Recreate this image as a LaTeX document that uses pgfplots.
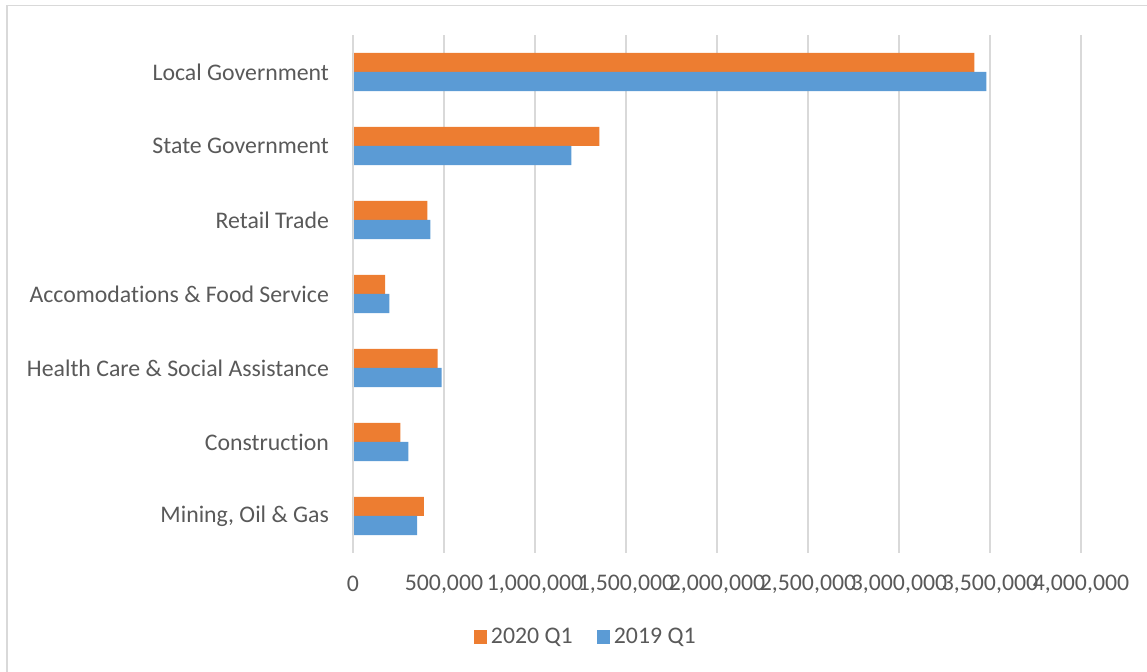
\documentclass[border=0pt]{standalone}
\usepackage{pgfplots}
\pgfplotsset{compat=1.18}
\usepackage{fontspec}
\setmainfont{Carlito}[Ligatures=NoCommon]
\definecolor{c20}{HTML}{ED7D31}
\definecolor{c19}{HTML}{5B9BD5}
\definecolor{gridc}{HTML}{D9D9D9}
\definecolor{txt}{HTML}{595959}
\begin{document}
\begin{tikzpicture}
\path[use as bounding box] (0,0) rectangle (573.5pt,-336pt);
\draw[gridc, line width=0.9pt] (3.5pt,-336pt) -- (3.5pt,-2.8pt) -- (573.5pt,-2.8pt);
\begin{axis}[
  at={(176.5pt,-17.5pt)}, anchor=north west,
  scale only axis, width=364pt, height=259pt,
  xbar, bar width=9.6pt,
  xmin=0, xmax=4000000,
  ymin=-0.5, ymax=6.5,
  xtick={0,500000,...,4000000},
  ytick={0,1,2,3,4,5,6},
  yticklabels={{Mining, Oil \& Gas},Construction,{Health Care \& Social Assistance},{Accomodations \& Food Service},Retail Trade,State Government,Local Government},
  scaled x ticks=false,
  xticklabel={\pgfmathprintnumber[fixed,1000 sep={,},precision=0]{\tick}},
  /pgf/number format/assume math mode=true,
  xmajorgrids, major grid style={gridc, line width=0.9pt},
  major tick length=0pt,
  axis line style={draw=none},
  tick label style={font=\fontsize{11.9}{14}\selectfont, text=txt},
  xticklabel style={anchor=center, yshift=-15.5pt},
  yticklabel style={anchor=east, xshift=-8.5pt},
  legend style={at={(0.321,-0.162)}, anchor=center, draw=none, fill=none,
    font=\fontsize{11.9}{14}\selectfont, text=txt, legend columns=2,
    /tikz/every even column/.append style={column sep=10pt}},
  legend image code/.code={\fill[#1] (0pt,-3.5pt) rectangle (6.6pt,3.5pt);},
]
\addplot[fill=c20, draw=none, bar shift=4.8pt] coordinates {
(390000,0) (260000,1) (465000,2) (176000,3) (408000,4) (1354000,5) (3414000,6)};
\addplot[fill=c19, draw=none, bar shift=-4.8pt] coordinates {
(353000,0) (304000,1) (487000,2) (200000,3) (425000,4) (1200000,5) (3480000,6)};
\legend{2020 Q1, 2019 Q1}
\draw[gridc, line width=0.9pt] (axis cs:0,-0.5) -- (axis cs:0,6.5);
\end{axis}
\end{tikzpicture}
\end{document}
